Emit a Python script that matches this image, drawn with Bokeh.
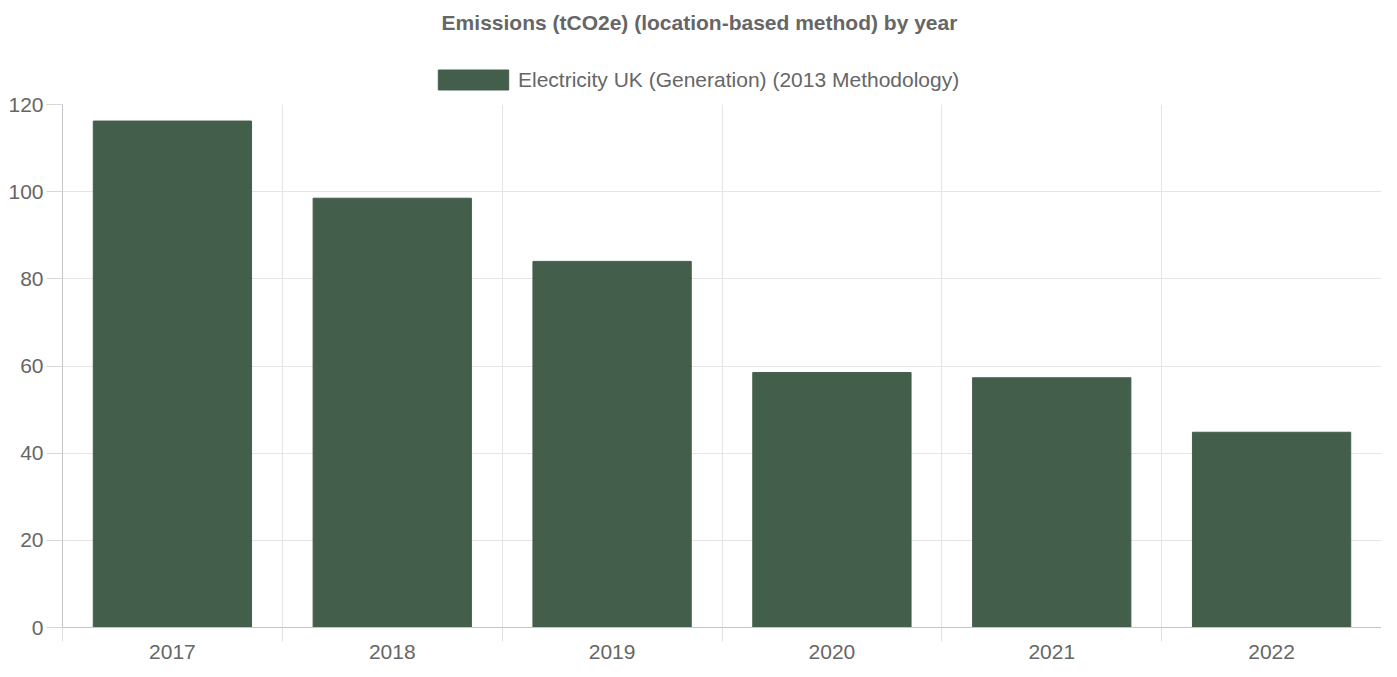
from bokeh.plotting import figure
from bokeh.layouts import column
from bokeh.models import FixedTicker, Range1d, Legend, LegendItem, ColumnDataSource
from bokeh.core.properties import value
from bokeh.embed import file_html
from bokeh.resources import INLINE

title_text = "Emissions (tCO2e) (location-based method) by year"
series_name = "Electricity UK (Generation) (2013 Methodology)"
years = ["2017", "2018", "2019", "2020", "2021", "2022"]
emissions = [116.2, 98.5, 84.0, 58.5, 57.3, 44.8]
y_ticks = [0, 20, 40, 60, 80, 100, 120]

FONT = "Liberation Sans"
FS = "21px"
TXT = "#666666"
BAR = "#445E4C"
W = 1381
LEFT = 62
HEAD_H = 92
MAIN_H = 569

n = len(years)
centers = [i + 0.5 for i in range(n)]
bounds = list(range(n + 1))

# ---------- header: title + legend ----------
head = figure(width=W, height=HEAD_H, x_range=Range1d(LEFT, W), y_range=Range1d(0, HEAD_H),
              x_axis_type=None, y_axis_type=None, output_backend="svg", toolbar_location=None,
              min_border_left=LEFT, min_border_right=0, min_border_top=0, min_border_bottom=0)
head.outline_line_color = None
head.xgrid.visible = False
head.ygrid.visible = False
head.text(x=[699], y=[HEAD_H - 22], text=[title_text], text_align="center",
          text_baseline="middle", text_font=value(FONT), text_font_size=FS,
          text_font_style="bold", text_color=TXT)
# off-range proxy glyph so the legend can draw its swatch
swatch = head.vbar(x=[-1000], top=[0], width=1, fill_color=BAR, line_color=BAR)
GW, GH = 88, 25  # legend draws the area swatch inset by 10% per side -> ~70x20
legend = Legend(items=[LegendItem(label=series_name, renderers=[swatch])],
                orientation="horizontal", location=(438 - 9 - LEFT, 0),
                glyph_width=GW, glyph_height=GH, label_standoff=1,
                border_line_color=None, background_fill_alpha=0,
                label_text_font=FONT, label_text_font_size=FS,
                label_text_color=TXT, padding=0, margin=0)
head.add_layout(legend)

# ---------- main chart ----------
src = ColumnDataSource(dict(x=centers, top=emissions, year=years))

p = figure(width=W, height=MAIN_H, x_range=Range1d(0, n), y_range=Range1d(0, y_ticks[-1]),
           output_backend="svg", toolbar_location=None,
           min_border_left=LEFT, min_border_right=0, min_border_top=12, min_border_bottom=20)
p.outline_line_color = None

p.vbar(x="x", top="top", bottom=0, width=0.72, source=src,
       fill_color=BAR, line_color=BAR, line_width=1)

xa = p.xaxis[0]
xa.ticker = FixedTicker(ticks=centers, minor_ticks=bounds)
xa.major_label_overrides = {c: y for c, y in zip(centers, years)}
xa.major_tick_out = 0
xa.major_tick_in = 0
xa.minor_tick_out = 14
xa.minor_tick_in = 0
xa.minor_tick_line_color = "#e0e0e0"
xa.axis_line_color = "#c4c4c4"
xa.major_label_text_font = FONT
xa.major_label_text_font_size = FS
xa.major_label_text_color = TXT
xa.major_label_standoff = 3

ya = p.yaxis[0]
ya.ticker = FixedTicker(ticks=y_ticks)
ya.major_tick_out = 16
ya.major_tick_in = 0
ya.minor_tick_line_color = None
ya.major_tick_line_color = "#d6d6d6"
ya.axis_line_color = "#c4c4c4"
ya.major_label_text_font = FONT
ya.major_label_text_font_size = FS
ya.major_label_text_color = TXT
ya.major_label_standoff = 3

p.xgrid.grid_line_color = None
p.xgrid.minor_grid_line_color = "#e5e5e5"
p.ygrid.grid_line_color = "#e5e5e5"
p.ygrid.ticker = FixedTicker(ticks=y_ticks)

layout = column(head, p, spacing=0)
open("out.html", "w").write(file_html(layout, INLINE))
